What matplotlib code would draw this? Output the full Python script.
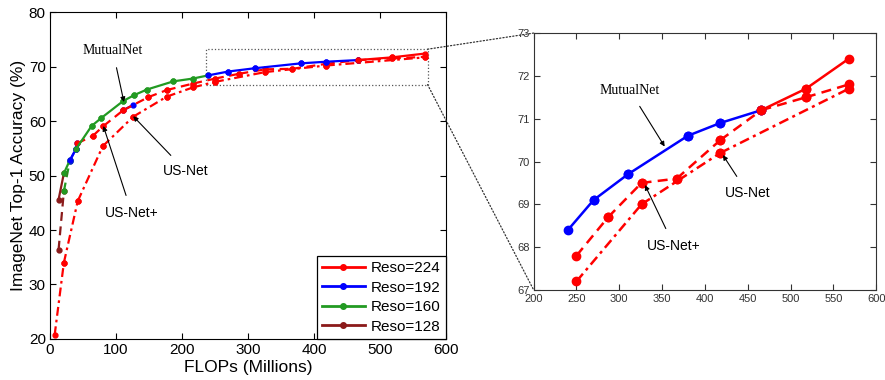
import matplotlib
matplotlib.use("Agg")
import matplotlib.pyplot as plt
from matplotlib.lines import Line2D
from matplotlib.patches import Rectangle, ConnectionPatch

plt.rcParams["font.family"] = ["Liberation Sans", "DejaVu Sans"]

#########################################################
# DATA
#########################################################

# MutualNet (solid)
mutual_flops = [13, 21, 30, 39, 63, 77, 111, 128, 147, 187, 216, 240,
                270, 310, 380, 418, 466, 518, 568]
mutual_acc = [45.6, 50.4, 52.8, 54.8, 59.1, 60.5, 63.7, 64.8, 65.8, 67.3,
              67.8, 68.4, 69.1, 69.7, 70.6, 70.9, 71.2, 71.7, 72.4]
mutual_reso = [128, 160, 192, 160, 160, 160, 160, 160, 160, 160, 160,
               192, 192, 192, 192, 192, 224, 224]

# US-Net+ (dashed)
usplus_flops = [13, 21, 30, 39, 41, 65, 81, 111, 149, 177, 217, 250,
                287, 326, 367, 418, 466, 518, 568]
usplus_acc = [36.4, 47.1, 52.7, 54.8, 55.9, 57.3, 59.1, 62.0, 64.4, 65.7,
              66.9, 67.8, 68.7, 69.5, 69.6, 70.5, 71.2, 71.5, 71.8]
usplus_reso = [128, 160, 192, 192, 224, 224, 224, 224, 224, 224, 224,
               224, 224, 224, 224, 224, 224, 224]
usplus_spur_flops = [111, 125]
usplus_spur_acc = [62.0, 62.9]
usplus_spur_reso = 192

# US-Net (dash-dot), all at 224
usnet_flops = [7, 21, 42, 80, 126, 177, 217, 250, 326, 418, 568]
usnet_acc = [20.7, 34.0, 45.3, 55.4, 60.8, 64.5, 66.2, 67.2, 69.0, 70.2, 71.7]

resolutions = [224, 192, 160, 128]
reso_colors = {224: "#ff0000", 192: "#0000ff", 160: "#229a22", 128: "#8b1a1a"}

#########################################################


def draw_segments(ax, xs, ys, resos, ls, lw, ms, xmin=None):
    for i in range(len(xs) - 1):
        if xmin is not None and xs[i] < xmin:
            continue
        ax.plot(xs[i:i + 2], ys[i:i + 2], linestyle=ls, color=reso_colors[resos[i]],
                linewidth=lw, marker="o", markersize=ms, solid_capstyle="butt",
                dash_capstyle="butt")


fig = plt.figure(figsize=(8.85, 3.8), dpi=100)

axL = fig.add_axes([0.0565, 0.108, 0.4475, 0.860])
axR = fig.add_axes([0.603, 0.237, 0.387, 0.676])

dashed = (0, (4, 2.5))
dashdot = (0, (4, 1.8, 1.2, 1.8))

#########################################################
# LEFT
#########################################################

draw_segments(axL, usnet_flops, usnet_acc, [224] * len(usnet_flops), dashdot, 1.6, 3.5)
axL.plot(usplus_spur_flops, usplus_spur_acc, linestyle=dashed,
         color=reso_colors[usplus_spur_reso], linewidth=1.6, marker="o", markersize=3.5)
draw_segments(axL, usplus_flops, usplus_acc, usplus_reso, dashed, 1.6, 3.5)
draw_segments(axL, mutual_flops, mutual_acc, mutual_reso, "-", 1.6, 3.5)

axL.add_patch(Rectangle((237, 66.7), 335, 6.5, fill=False, linestyle=":",
                        linewidth=0.9, edgecolor="#555555"))

axL.set_xlim(0, 600)
axL.set_ylim(20, 80)
axL.set_xticks(range(0, 601, 100))
axL.set_yticks(range(20, 81, 10))
axL.tick_params(direction="in", top=True, right=True, labelsize=11, length=4, pad=3)
axL.set_xlabel("FLOPs (Millions)", fontsize=12.5, labelpad=2)
axL.set_ylabel("ImageNet Top-1 Accuracy (%)", fontsize=12.5, labelpad=2)

axL.annotate("MutualNet", xy=(112, 63.5), xytext=(95, 73.0), ha="center", va="center",
             fontsize=10, family=["Liberation Serif", "DejaVu Serif"],
             arrowprops=dict(arrowstyle="-|>", color="black", lw=0.8,
                             mutation_scale=7, shrinkA=6, shrinkB=0))
axL.annotate("US-Net", xy=(126, 60.9), xytext=(206, 50.8), ha="center", va="center",
             fontsize=10,
             arrowprops=dict(arrowstyle="-|>", color="black", lw=0.8,
                             mutation_scale=7, shrinkA=6, shrinkB=0))
axL.annotate("US-Net+", xy=(80.8, 59.1), xytext=(124, 43.1), ha="center", va="center",
             fontsize=10,
             arrowprops=dict(arrowstyle="-|>", color="black", lw=0.8,
                             mutation_scale=7, shrinkA=6, shrinkB=0))

handles = [Line2D([0], [0], color=reso_colors[r], linewidth=2, marker="o", markersize=4)
           for r in resolutions]
labels = [f"Reso={r}" for r in resolutions]
leg = axL.legend(handles, labels, loc="lower right", borderaxespad=0, fontsize=11,
                 fancybox=False, framealpha=1, edgecolor="black", handlelength=2.8,
                 handletextpad=0.4, labelspacing=0.36, borderpad=0.35)
leg.get_frame().set_linewidth(0.9)

#########################################################
# RIGHT (ZOOM)
#########################################################

draw_segments(axR, usnet_flops, usnet_acc, [224] * len(usnet_flops), dashdot, 1.8, 6, xmin=235)
draw_segments(axR, usplus_flops, usplus_acc, usplus_reso, dashed, 1.8, 6, xmin=235)
draw_segments(axR, mutual_flops, mutual_acc, mutual_reso, "-", 1.8, 6, xmin=235)

axR.set_xlim(200, 600)
axR.set_ylim(67, 73)
axR.set_xticks(range(200, 601, 50))
axR.set_yticks(range(67, 74))
axR.tick_params(direction="in", top=True, right=True, labelsize=8, length=4,
                pad=3, colors="#333333")
for s in axR.spines.values():
    s.set_color("#333333")

axR.annotate("MutualNet", xy=(353, 70.35), xytext=(312, 71.67), ha="center", va="center",
             fontsize=10, family=["Liberation Serif", "DejaVu Serif"],
             arrowprops=dict(arrowstyle="-|>", color="black", lw=0.8,
                             mutation_scale=7, shrinkA=6, shrinkB=0))
axR.annotate("US-Net", xy=(421, 70.15), xytext=(450, 69.26), ha="center", va="center",
             fontsize=10,
             arrowprops=dict(arrowstyle="-|>", color="black", lw=0.8,
                             mutation_scale=7, shrinkA=6, shrinkB=0))
axR.annotate("US-Net+", xy=(330, 69.45), xytext=(364, 68.03), ha="center", va="center",
             fontsize=10,
             arrowprops=dict(arrowstyle="-|>", color="black", lw=0.8,
                             mutation_scale=7, shrinkA=6, shrinkB=0))

#########################################################
# CONNECTORS
#########################################################

for yl, yr in [(73.2, 73), (66.7, 67)]:
    con = ConnectionPatch(xyA=(572, yl), coordsA=axL.transData,
                          xyB=(200, yr), coordsB=axR.transData,
                          linestyle=":", linewidth=0.9, color="#333333")
    fig.add_artist(con)

fig.savefig("out.png", dpi=100)
